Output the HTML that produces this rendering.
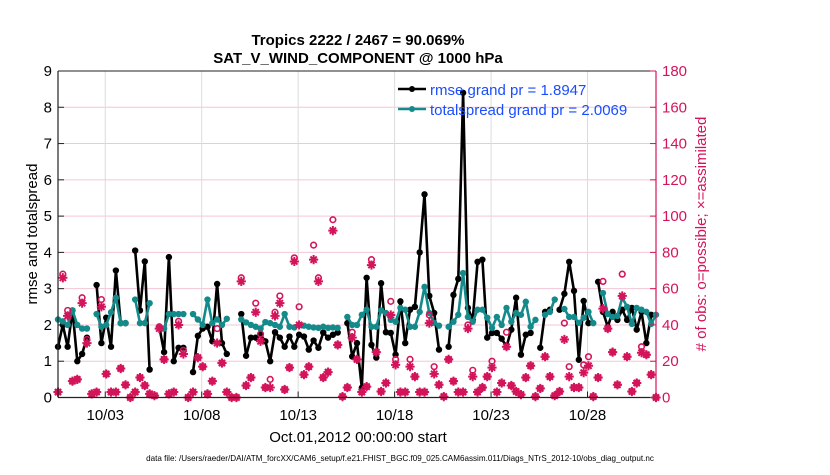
<!DOCTYPE html>
<html><head><meta charset="utf-8"><style>
body{margin:0;background:#fff;width:830px;height:470px;overflow:hidden;font-family:"Liberation Sans",Arial,sans-serif}
svg text{font-family:"Liberation Sans",Arial,sans-serif}
</style></head><body>
<svg id="chart" width="830" height="470" xmlns="http://www.w3.org/2000/svg">
<g id="grid"></g>
<g id="series"></g>
<g id="axes"></g>
<text x="358" y="45" text-anchor="middle" font-size="15" font-weight="bold">Tropics 2222 / 2467 = 90.069%</text>
<text x="358" y="63" text-anchor="middle" font-size="15" font-weight="bold">SAT_V_WIND_COMPONENT @ 1000 hPa</text>
<text transform="translate(37,234) rotate(-90)" text-anchor="middle" font-size="15">rmse and totalspread</text>
<text transform="translate(706,234) rotate(-90)" text-anchor="middle" font-size="15" fill="#d4145a"># of obs: o=possible; ×=assimilated</text>
<text x="358" y="442" text-anchor="middle" font-size="15">Oct.01,2012 00:00:00 start</text>
<text x="400" y="461" text-anchor="middle" font-size="8.1">data file: /Users/raeder/DAI/ATM_forcXX/CAM6_setup/f.e21.FHIST_BGC.f09_025.CAM6assim.011/Diags_NTrS_2012-10/obs_diag_output.nc</text>
<g>
<line x1="398" y1="89" x2="426" y2="89" stroke="#000" stroke-width="2.5"/><circle cx="412" cy="89" r="3" fill="#000"/>
<text x="430" y="95" font-size="15" fill="#1a4dff">rmse grand pr = 1.8947</text>
<line x1="398" y1="109" x2="426" y2="109" stroke="#148a8a" stroke-width="2.5"/><circle cx="412" cy="109" r="3" fill="#148a8a"/>
<text x="430" y="115" font-size="15" fill="#1a4dff">totalspread grand pr = 2.0069</text>
</g>
</svg>
<script>
const rmse=[1.4,2.0,1.4,2.4,1.0,1.2,1.65,null, 3.1,1.5,2.2,1.4,3.5,2.05,2.05,null, 4.05,2.4,3.75,0.77,null, 1.95,1.25,3.87,1.0,1.37,1.37,null, 0.7,1.7,1.9,1.95,1.55,3.13,1.5,1.2,null,null, 2.3,1.15,1.65,1.65,1.73,1.55,1.0,1.8,1.65,1.4,1.68,1.4,1.73,1.68,1.32,1.57,1.37,1.79,1.65,1.73,1.79,null, 2.05,1.13,1.5,0.27,3.3,1.45,1.1,3.15,1.8,1.78,1.18,2.65,1.5,2.42,2.5,4.0,5.6,2.8,2.33,1.32,null, 1.4,2.83,3.27,8.4,2.47,2.14,3.74,3.8,1.65,1.78,1.78,1.62,1.4,1.87,2.75, 1.18,1.73,1.78,null,1.37,2.36,2.42,null,2.42,2.86,3.74,2.94,1.04,2.66,2.05,null,3.19,2.36,1.95,2.36,2.14,2.42,2.14,2.47,1.87,2.36,1.5,2.28,null];
const spread=[2.15,2.1,2.0,2.4,2.0,1.9,1.9,null, 2.3,1.95,2.0,2.35,2.75,2.05,2.05,null, 2.7,2.05,2.05,2.6,null, 1.95,1.9,2.3,2.3,2.3,2.3,null, 2.3,2.15,2.0,2.7,2.05,2.15,2.0,2.17,null,null, 2.15,2.07,2.0,1.95,1.9,2.08,2.05,2.0,1.95,2.3,1.95,1.93,2.0,1.98,1.95,1.93,1.92,1.95,1.92,1.93,1.92,null, 2.22,2.0,2.0,2.28,2.42,1.95,1.95,2.4,2.33,2.14,2.09,2.47,2.42,1.95,1.95,2.36,3.05,2.33,2.06,1.98,null, 1.95,2.09,2.28,3.43,2.22,2.09,2.42,2.42,2.2,1.92,2.22,2.0,2.47,2.09,2.33, 2.28,2.64,1.95,2.14,null,2.28,2.36,2.7,null,2.44,2.22,2.22,2.06,2.2,2.36,2.05,null,2.88,2.3,2.22,2.25,2.75,2.5,2.03,2.47,2.42,2.36,2.03,2.28,null];
const possible=[3,68,48,9,10,55,32,2,3,54, 13,3,3,16,7,0,3,11,6.6,2, 1,39,21,2,3,42,26,0,3,22, 17,2,9,38,19,3,0,0,66,6.6, 11,52,35,5.5,10,47,56,4.4,16.5,77, 50,12.6,17,84,66,11,14,98,29,0.5, 5.5,36,21,3,6,76,25,3.3,8,53, 21,3,3,21,11.5,3,3,45.5,17,7, 0.5,21,9,3,3,40,15,3,5.5,11.5, 20,3,8,36,6.6,3.3,1.6,11,17.5,0.5, 5,22.5,11.5,1,3.3,41,17,5.5,5.5,18, 22.5,0.5,11,64,38,25,7,68,22.5,3.3, 8,28,23.6,12.6,0];
const assimilated=[3,66,45,9,10,52,30,2,3,50, 13,3,3,16,7,0,3,11,6.6,2, 1,38,21,2,3,40,24,0,3,22, 17,2,9,30,19,3,0,0,64,6.6, 11,47,31,5.5,5.5,45,52,4.4,16.5,75, 40,12.6,17,76,64,11,14,92,29,0.5, 5.5,33,21,3,6,73,25,3.3,8,45.5, 18,3,3,17,11.5,3,3,41,13,7, 0.5,21,9,3,3,38,11.5,3,5.5,11.5, 16.5,3,8,28,6.6,3.3,1.6,11,17.5,0.5, 5,22.5,11.5,1,3.3,32,11.5,5.5,5.5,13.7, 17.5,0.5,11,49,38,25,7,56,22.5,3.3, 8,24.7,23.6,12.6,0];
const xTickDays=[2,7,12,17,22,27];
const xTickLabels=['10/03','10/08','10/13','10/18','10/23','10/28'];
const leftTicks=[0,1,2,3,4,5,6,7,8,9];
const rightTicks=[0,20,40,60,80,100,120,140,160,180];

const L=58,R=656,T=71,B=397.5;
const xi=i=>L+i*(R-L)/124;
const xd=d=>L+(d+0.45)*4*(R-L)/124;
const yl=v=>B-(v/9)*(B-T);
const yr=v=>B-(v/180)*(B-T);
const NS='http://www.w3.org/2000/svg';
function mk(tag,parent,attrs){const e=document.createElementNS(NS,tag);for(const k in attrs)e.setAttribute(k,attrs[k]);parent.appendChild(e);return e;}
const grid=document.getElementById('grid'),ser=document.getElementById('series'),ax=document.getElementById('axes');
rightTicks.forEach(v=>{const g=mk('line',grid,{x1:L,x2:R,y1:yr(v),y2:yr(v),stroke:'#f3c6d6','stroke-width':1});

});
xTickDays.forEach((d,k)=>{const g=mk('line',grid,{x1:xd(d),x2:xd(d),y1:T,y2:B,stroke:'#dcdcdc','stroke-width':1});


const t=mk('text',ax,{x:xd(d),y:420,'text-anchor':'middle','font-size':15});t.textContent=xTickLabels[k];


mk('line',ax,{x1:xd(d),x2:xd(d),y1:B,y2:B-6,stroke:'#222'});});
function drawLine(arr,color,name){let d='';let pen=false;arr.forEach((v,i)=>{if(v==null){pen=false;return;}d+=(pen?'L':'M')+xi(i).toFixed(1)+' '+yl(v).toFixed(1);pen=true;});
const p=mk('path',ser,{d:d,fill:'none',stroke:color,'stroke-width':2.6,'stroke-linejoin':'round'});


arr.forEach((v,i)=>{if(v==null)return;const c=mk('circle',ser,{cx:xi(i),cy:yl(v),r:3.2,fill:color});

});}
drawLine(rmse,'#000','rmse');
drawLine(spread,'#148a8a','totalspread');
const pink='#d4145a';
possible.forEach((v,i)=>{const c=mk('circle',ser,{cx:xi(i),cy:yr(v),r:2.8,fill:'none',stroke:pink,'stroke-width':1.6});

});
assimilated.forEach((v,i)=>{const x=xi(i),y=yr(v),s=4.6,q=s*0.68;
const a=mk('path',ser,{d:`M${x-s} ${y}H${x+s}M${x} ${y-s}V${y+s}M${x-q} ${y-q}L${x+q} ${y+q}M${x-q} ${y+q}L${x+q} ${y-q}`,stroke:pink,'stroke-width':2,fill:'none'});

});
mk('line',ax,{x1:L,x2:R,y1:T,y2:T,stroke:'#222','stroke-width':1});
mk('line',ax,{x1:L,x2:R,y1:B,y2:B,stroke:'#222','stroke-width':1.2});
mk('line',ax,{x1:L,x2:L,y1:T,y2:B,stroke:'#222','stroke-width':1.2});
mk('line',ax,{x1:R,x2:R,y1:T,y2:B,stroke:pink,'stroke-width':1.2});
leftTicks.forEach(v=>{mk('line',ax,{x1:L,x2:L+6,y1:yl(v),y2:yl(v),stroke:'#222'});
const t=mk('text',ax,{x:L-6,y:yl(v)+5,'text-anchor':'end','font-size':15});t.textContent=v;

});
rightTicks.forEach(v=>{mk('line',ax,{x1:R-6,x2:R,y1:yr(v),y2:yr(v),stroke:pink});
const t=mk('text',ax,{x:R+6,y:yr(v)+5,'font-size':15,fill:pink});t.textContent=v;

});
</script>
</body></html>
